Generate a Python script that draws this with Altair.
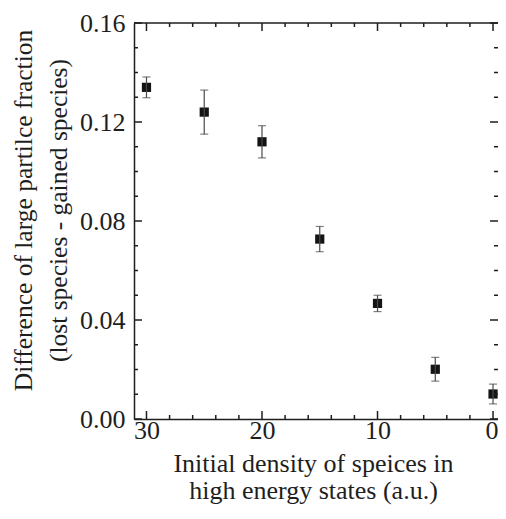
import altair as alt
import pandas as pd

# data
density = [30, 25, 20, 15, 10, 5, 0]
diff = [0.134, 0.124, 0.112, 0.0727, 0.0467, 0.0201, 0.0101]
err = [0.0042, 0.0089, 0.0065, 0.0051, 0.0033, 0.0048, 0.0040]

x_major = [0, 10, 20, 30]
x_minor = [2, 4, 6, 8, 12, 14, 16, 18, 22, 24, 26, 28]
y_major = [0.0, 0.04, 0.08, 0.12, 0.16]
y_minor = [0.01, 0.02, 0.03, 0.05, 0.06, 0.07, 0.09, 0.10, 0.11, 0.13, 0.14, 0.15]

x_title = ["Initial density of speices in", "high energy states (a.u.)"]
y_title = ["Difference of large partilce fraction", "(lost species - gained species)"]

W, H = 364, 396
FONT = "Liberation Serif, Times New Roman, serif"
INK = "#1e1e1e"

df = pd.DataFrame({"x": density, "y": diff, "e": err})
df["lo"] = df["y"] - df["e"]
df["hi"] = df["y"] + df["e"]

xs = alt.Scale(domain=[-0.43, 31.08], reverse=True, nice=False, zero=False)
ys = alt.Scale(domain=[0, 0.16], nice=False, zero=True)

base = alt.Chart(df)

points = base.mark_square(size=85, color="#141414", opacity=1, filled=True).encode(
    x=alt.X(
        "x:Q",
        scale=xs,
        axis=alt.Axis(
            orient="bottom",
            values=x_major,
            ticks=False,
            tickSize=0,
            labelPadding=19,
            labelBaseline="alphabetic",
            labelFlush=8,
            labelFlushOffset=5,
            grid=False,
            domain=True,
            title=x_title,
            titleX=179,
            titleY=52,
            titleAlign="center",
            titleBaseline="alphabetic",
            titleAngle=0,
            titleLineHeight=27,
            titleFontSize=26,
        ),
    ),
    y=alt.Y(
        "y:Q",
        scale=ys,
        axis=alt.Axis(
            orient="left",
            values=y_major,
            format=".2f",
            ticks=False,
            tickSize=0,
            labelPadding=9,
            grid=False,
            domain=True,
            title=y_title,
            titleX=-103,
            titleY=187,
            titleAngle=270,
            titleAlign="center",
            titleBaseline="alphabetic",
            titleLineHeight=35,
            titleFontSize=25.5,
        ),
    ),
)

bars = base.mark_rule(color="#4a4a4a", strokeWidth=1.2).encode(
    x=alt.X("x:Q", scale=xs),
    y=alt.Y("lo:Q", scale=ys),
    y2="hi:Q",
)
cap_lo = base.mark_tick(color="#4a4a4a", orient="horizontal", size=8, thickness=1.2).encode(
    x=alt.X("x:Q", scale=xs),
    y=alt.Y("lo:Q", scale=ys),
)
cap_hi = base.mark_tick(color="#4a4a4a", orient="horizontal", size=8, thickness=1.2).encode(
    x=alt.X("x:Q", scale=xs),
    y=alt.Y("hi:Q", scale=ys),
)


def xticks(vals, length, top):
    d = pd.DataFrame({"t": vals})
    if top:
        y0, y1 = 0, length
    else:
        y0, y1 = H, H - length
    return alt.Chart(d).mark_rule(color=INK, strokeWidth=1.5).encode(
        x=alt.X("t:Q", scale=xs),
        y=alt.value(y0),
        y2=alt.value(y1),
    )


def yticks(vals, length, right):
    d = pd.DataFrame({"t": vals})
    if right:
        x0, x1 = W, W - length
    else:
        x0, x1 = 0, length
    return alt.Chart(d).mark_rule(color=INK, strokeWidth=1.5).encode(
        y=alt.Y("t:Q", scale=ys),
        x=alt.value(x0),
        x2=alt.value(x1),
    )


top_line = alt.Chart(pd.DataFrame({"t": [0]})).mark_rule(color=INK, strokeWidth=1.5).encode(
    x=alt.value(0),
    x2=alt.value(W),
    y=alt.value(0),
)

chart = (
    alt.layer(
        points,
        top_line,
        xticks(x_major, 8, False),
        xticks(x_minor, 4, False),
        xticks(x_major, 8, True),
        xticks(x_minor, 4, True),
        yticks(y_major, 8, False),
        yticks(y_minor, 4, False),
        yticks(y_major, 8, True),
        yticks(y_minor, 4, True),
        bars,
        cap_lo,
        cap_hi,
    )
    .properties(
        width=W,
        height=H,
        autosize=alt.AutoSizeParams(type="none"),
        padding={"left": 126, "top": 15, "right": 0, "bottom": 86},
    )
    .configure_view(strokeWidth=0)
    .configure_axis(
        labelFont=FONT,
        labelFontSize=26,
        labelColor=INK,
        titleFont=FONT,
        titleFontSize=26,
        titleFontWeight="normal",
        titleColor=INK,
        domainColor=INK,
        domainWidth=1.5,
    )
)

chart.save("out.html", embed_options={"renderer": "svg", "actions": False})
